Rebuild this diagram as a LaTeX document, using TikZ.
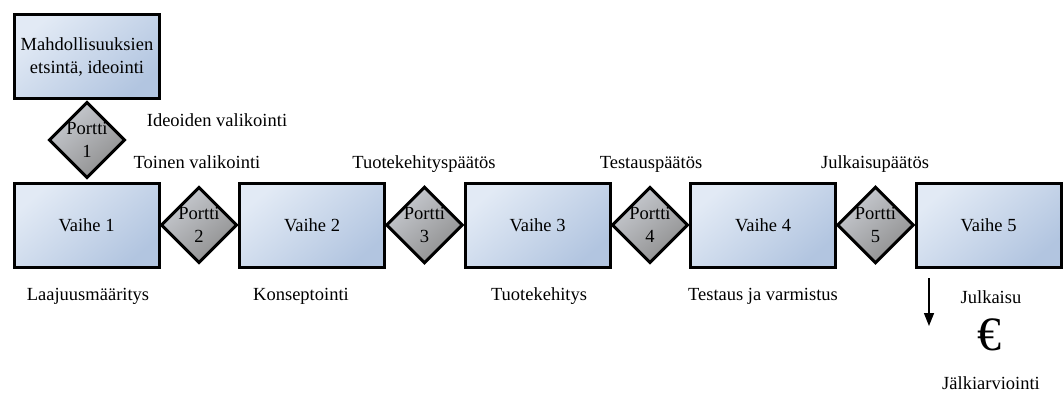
\documentclass[tikz,border=0pt]{standalone}
\usepackage{fontspec}
\setmainfont{Liberation Serif}
\newfontfamily\labelfont{Liberation Serif}
\usetikzlibrary{shapes.geometric,arrows.meta}

\definecolor{stageTop}{HTML}{E2EAF5}
\definecolor{stageBot}{HTML}{B2C5E0}
\definecolor{gateTop}{HTML}{C8CBD1}
\definecolor{gateBot}{HTML}{8E8E8E}

\tikzset{
  every node/.style={font=\labelfont\fontsize{18.5}{23}\selectfont, inner sep=0pt},
  stagebox/.style={rectangle, draw=black, line width=3pt,
    minimum width=145pt, minimum height=84pt, align=center,
    shading=axis, top color=stageTop, bottom color=stageBot, shading angle=40},
  gatebox/.style={diamond, draw=black, line width=3pt, aspect=1,
    minimum width=74pt, minimum height=76pt, align=center,
    shading=axis, top color=gateTop, bottom color=gateBot, shading angle=40},
  caption/.style={anchor=base},
  flowarrow/.style={line width=1.4pt, -{Triangle[width=10pt,length=13pt]}}
}

\begin{document}
\begin{tikzpicture}[x=1pt, y=-1pt]
  \useasboundingbox (0,0) rectangle (1063,392);

  % idea generation and first gate
  \node[stagebox] (ideas) at (87,56.5) {Mahdollisuuksien\\etsintä, ideointi};
  \node[gatebox] (g1) at (87,140) {Portti\\1};

  % stages
  \node[stagebox] (s1) at (86.5,225) {Vaihe 1};
  \node[stagebox] (s2) at (312,225) {Vaihe 2};
  \node[stagebox] (s3) at (537.5,225) {Vaihe 3};
  \node[stagebox] (s4) at (763,225) {Vaihe 4};
  \node[stagebox] (s5) at (988.5,225) {Vaihe 5};

  % gates between stages
  \node[gatebox] (g2) at (199,225) {Portti\\2};
  \node[gatebox] (g3) at (424.5,225) {Portti\\3};
  \node[gatebox] (g4) at (650,225) {Portti\\4};
  \node[gatebox] (g5) at (875.5,225) {Portti\\5};

  % gate decisions
  \node[caption] (d1) at (217,126) {Ideoiden valikointi};
  \node[caption] (d2) at (197,168) {Toinen valikointi};
  \node[caption] (d3) at (424,168) {Tuotekehityspäätös};
  \node[caption] (d4) at (651,168) {Testauspäätös};
  \node[caption] (d5) at (875,168) {Julkaisupäätös};

  % stage contents
  \node[caption] (c1) at (88,300) {Laajuusmääritys};
  \node[caption] (c2) at (301,300) {Konseptointi};
  \node[caption] (c3) at (539,300) {Tuotekehitys};
  \node[caption] (c4) at (763,300) {Testaus ja varmistus};

  % launch and review
  \node[caption] (launch) at (991,303) {Julkaisu};
  \node[caption, font=\labelfont\fontsize{48}{48}\selectfont] (euro) at (989,350) {€};
  \node[caption] (review) at (991,389) {Jälkiarviointi};

  \coordinate (arrTop) at (929,278);
  \coordinate (arrEnd) at (929,326);
  \draw[flowarrow] (arrTop) -- (arrEnd);
\end{tikzpicture}
\end{document}
